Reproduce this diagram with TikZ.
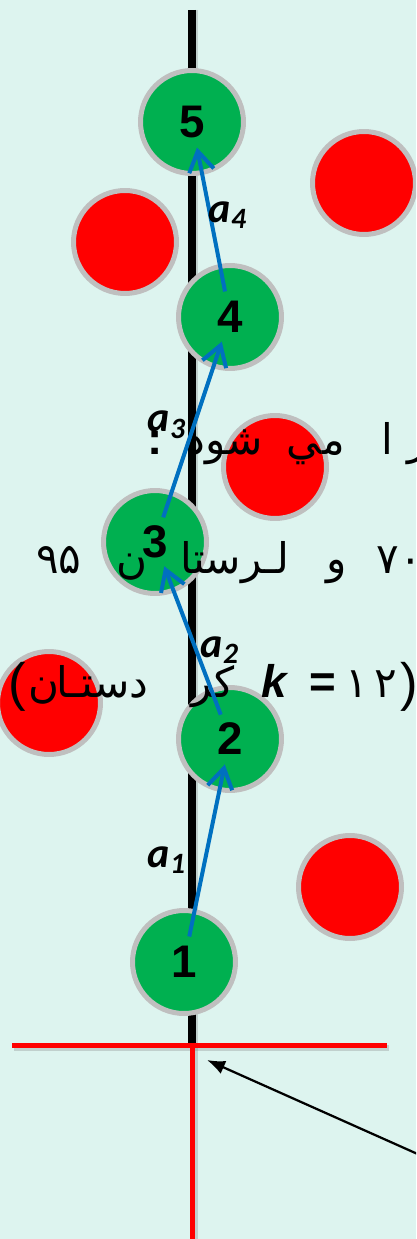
\documentclass[tikz,border=0pt]{standalone}
\usepackage{fontspec}
\setmainfont{Liberation Sans}
\newfontfamily\farsifont[Script=Arabic]{DejaVu Sans}
\newfontfamily\calfont{Carlito}
\TeXXeTstate=1
\usepackage{tikz}
\usetikzlibrary{arrows.meta, calc}

\definecolor{slidebg}{RGB}{221,244,239}
\definecolor{ballgreen}{RGB}{0,176,80}
\definecolor{ballred}{RGB}{255,0,0}
\definecolor{rim}{RGB}{191,191,191}
\definecolor{hopblue}{RGB}{0,112,192}

\begin{document}
\begin{tikzpicture}[
    x=0.02cm, y=-0.02cm,
    >={Straight Barb[length=0.4cm, width=0.5cm]},
    ball/.style={circle, draw=rim, line width=0.1cm, minimum size=2.06cm, inner sep=0pt},
    greenball/.style={ball, fill=ballgreen, font=\fontsize{26}{30}\selectfont\bfseries},
    redball/.style={ball, fill=ballred},
    hop/.style={->, line width=0.08cm, hopblue, shorten <=0.52cm, shorten >=0.52cm},
    hoplabel/.style={font=\calfont\fontsize{24}{28}\selectfont\bfseries\itshape, inner sep=0pt},
    farsi/.style={font=\farsifont\fontsize{24}{28}\selectfont, inner sep=0pt},
    latin/.style={font=\fontsize{26}{30}\selectfont\bfseries, inner sep=0pt},
    axisline/.style={line width=0.16cm, black},
    redline/.style={line width=0.1cm, ballred},
    shade/.style={line width=0.12cm, black!50, opacity=0.3},
    pointer/.style={-{Latex[length=0.36cm, width=0.28cm]}, line width=0.045cm, black}
]

\useasboundingbox (0,0) rectangle (416,1239);
\fill[slidebg] (0,0) rectangle (416,1239);
\clip (0,0) rectangle (416,1239);

\coordinate (top) at (192,10);
\coordinate (origin) at (192,1045);
\coordinate (left) at (12,1045);
\coordinate (right) at (387,1045);
\coordinate (down) at (192,1245);
\coordinate (tail) at (440,1164);
\coordinate (tip) at (207,1060);

\draw[shade] ($(top)+(3,0)$) -- ($(origin)+(3,0)$);
\draw[shade] ($(left)+(2,3)$) -- ($(right)+(2,3)$);
\draw[shade] ($(origin)+(3,2)$) -- ($(down)+(3,2)$);
\draw[axisline] (top) -- (origin);
\draw[redline] (left) -- (right);
\draw[redline] (origin) -- (down);
\draw[pointer] (tail) -- (tip);

\node[redball] (r1) at (364,183) {};
\node[redball] (r2) at (125,242) {};
\node[redball] (r3) at (275,467) {};
\node[redball] (r4) at (49,703) {};
\node[redball] (r5) at (350,887) {};

\node[greenball] (n5) at (192,122) {5};
\node[greenball] (n4) at (230,317) {4};
\node[greenball] (n3) at (155,542) {3};
\node[greenball] (n2) at (230,739) {2};
\node[greenball] (n1) at (184,962) {1};

\node[farsi, anchor=base west] (t1a) at (407,455) {\beginR ر\endR};
\node[farsi, anchor=base] (t1b) at (387,455) {\beginR ا\endR};
\node[farsi, anchor=base east] (t1c) at (345,455) {\beginR مي\endR};
\node[farsi, anchor=base east] (t1d) at (263,455) {\beginR شود\endR};
\node[latin, anchor=base] (t1e) at (155,455) {:};

\node[farsi, anchor=base west] (t2a) at (376,573) {\beginR ۷۰\endR};
\node[farsi, anchor=base east] (t2b) at (347,573) {\beginR و\endR};
\node[farsi, anchor=base east] (t2c) at (290,573) {\beginR لـرستا\endR};
\node[farsi, anchor=base east] (t2d) at (148,573) {\beginR ن\endR};
\node[farsi, anchor=base east] (t2e) at (82,573) {\beginR ۹۵\endR};

\node[latin, anchor=base west, font=\fontsize{30}{34}\selectfont] (t3a) at (8,700) {(};
\node[farsi, anchor=base east] (t3b) at (60,697) {\beginR ن\endR};
\node[farsi, anchor=base east] (t3c) at (130,697) {\beginR ستـا\endR};
\node[farsi, anchor=base east] (t3d) at (149,697) {\beginR د\endR};
\node[farsi, anchor=base east] (t3e) at (235,697) {\beginR کر\endR};
\node[latin, anchor=base west, font=\fontsize{26}{30}\selectfont\bfseries\itshape] (t3k) at (261,697) {k};
\node[latin, anchor=base] (t3f) at (323,697) {=};
\node[farsi, anchor=base] (t3g) at (357,697) {\beginR ۱\endR};
\node[farsi, anchor=base] (t3h) at (386,697) {\beginR ۲\endR};
\node[latin, anchor=base west, font=\fontsize{30}{34}\selectfont] (t3i) at (400,700) {)};

\draw[hop] (n1.center) -- (n2.center);
\draw[hop] (n2.center) -- (n3.center);
\draw[hop] (n3.center) -- (n4.center);
\draw[hop] (n4.center) -- (n5.center);

\node[hoplabel] (a1) at (167,860) {a\textsubscript{1}};
\node[hoplabel] (a2) at (220,650) {a\textsubscript{2}};
\node[hoplabel] (a3) at (167,425) {a\textsubscript{3}};
\node[hoplabel] (a4) at (228,215) {a\textsubscript{4}};

\end{tikzpicture}
\end{document}
